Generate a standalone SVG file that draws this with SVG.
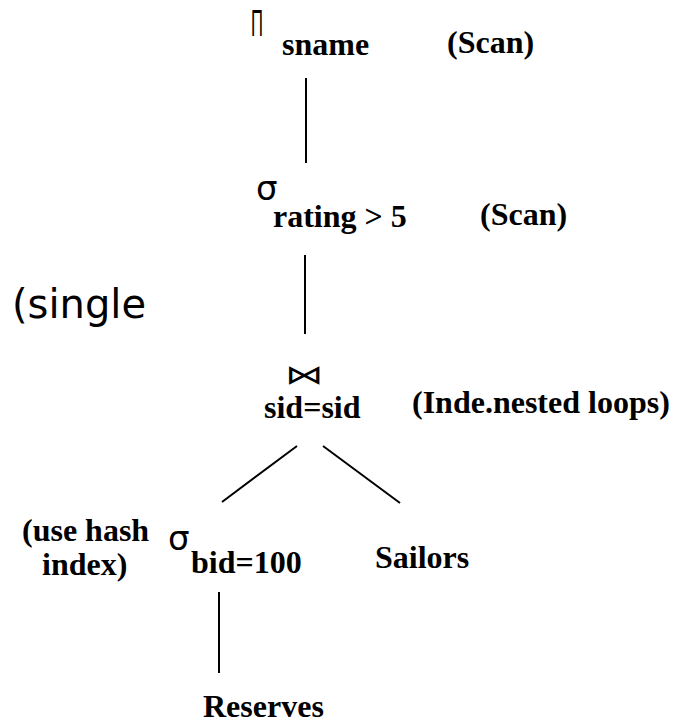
<svg xmlns="http://www.w3.org/2000/svg" width="679" height="723" viewBox="0 0 679 723">
  <style>
    .lbl { font-family: 'Liberation Serif', 'Times New Roman', serif; font-weight: 700; font-size: 32px; fill: #000; }
    .sym { font-family: 'DejaVu Sans', sans-serif; fill: #000; }
    .note { font-family: 'DejaVu Sans', sans-serif; font-size: 40px; fill: #000; }
    .edge { stroke: #000; stroke-width: 2; fill: none; }
  </style>
  <rect width="679" height="723" fill="#fff"/>

  <!-- tree edges -->
  <g id="connectors">
    <line class="edge" x1="306" y1="78" x2="306" y2="163"/>
    <line class="edge" x1="305" y1="255" x2="305" y2="334"/>
    <line class="edge" x1="297" y1="446" x2="222" y2="502"/>
    <line class="edge" x1="323" y1="446" x2="400" y2="503"/>
    <line class="edge" x1="219" y1="592" x2="219" y2="673"/>
  </g>

  <!-- projection -->
  <g id="project">
    <text x="251" y="36" font-family="Liberation Sans, sans-serif" font-size="37" textLength="12" lengthAdjust="spacingAndGlyphs">Π</text>
    <text class="lbl" x="282" y="55">sname</text>
    <text class="lbl" x="447" y="53">(Scan)</text>
  </g>

  <!-- selection on rating -->
  <g id="select-rating">
    <text class="sym" x="256" y="200" font-size="34">σ</text>
    <text class="lbl" x="273" y="227">rating &gt; 5</text>
    <text class="lbl" x="480" y="225">(Scan)</text>
  </g>

  <text class="note" x="12" y="318">(single</text>

  <!-- join -->
  <g id="join">
    <text class="sym" transform="translate(285,384) scale(1.2,0.85)" x="0" y="0" font-size="32">⋈</text>
    <text class="lbl" x="264" y="418">sid=sid</text>
    <text class="lbl" x="412" y="413">(Inde.nested loops)</text>
  </g>

  <!-- selection on bid -->
  <g id="select-bid">
    <text class="lbl" x="22" y="541">(use hash</text>
    <text class="lbl" x="42" y="575">index)</text>
    <text class="sym" x="168" y="550" font-size="34">σ</text>
    <text class="lbl" x="191" y="573">bid=100</text>
  </g>

  <g id="sailors">
    <text class="lbl" x="375" y="568">Sailors</text>
  </g>

  <g id="reserves">
    <text class="lbl" x="203" y="717">Reserves</text>
  </g>
</svg>
